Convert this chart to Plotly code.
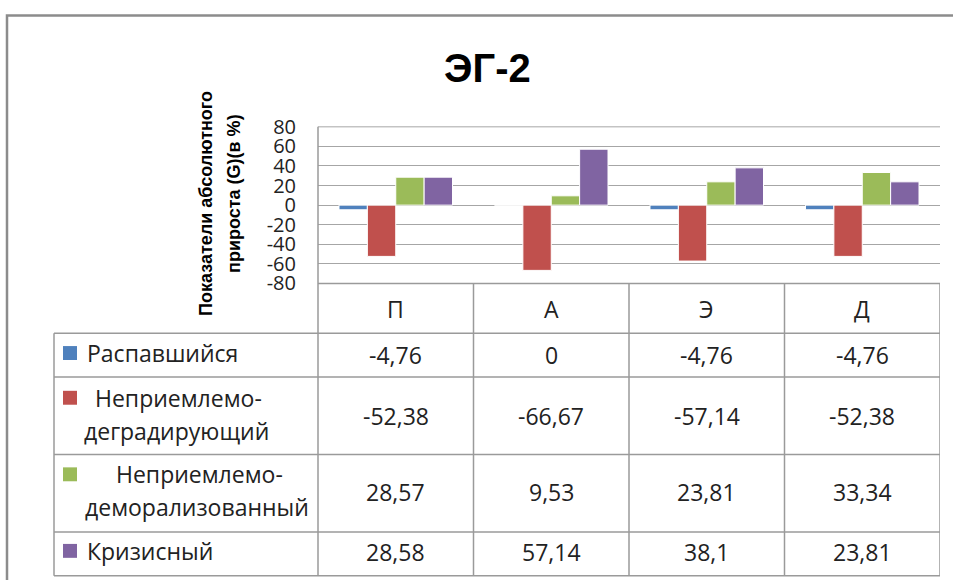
import plotly.graph_objects as go

# ---- data ----
categories = ["П", "А", "Э", "Д"]
series_names = ["Распавшийся", "Неприемлемо-деградирующий",
                "Неприемлемо-деморализованный", "Кризисный"]
raspav = [-4.76, 0, -4.76, -4.76]
degrad = [-52.38, -66.67, -57.14, -52.38]
demoral = [28.57, 9.53, 23.81, 33.34]
krizis = [28.58, 57.14, 38.1, 23.81]
y_ticks = [-80, -60, -40, -20, 0, 20, 40, 60, 80]
title_text = "ЭГ-2"
ytitle_lines = ["Показатели абсолютного", "прироста (G)(в %)"]

series_values = [raspav, degrad, demoral, krizis]
colors = ["#4F81BD", "#C0504D", "#9BBB59", "#8064A2"]

W, H = 953, 580
# vertical calibration of the photographed picture
Y_OFF, Y_SCALE = 12.0, 0.959


def px(xp):
    return xp / W


def py(yp):
    yf = (yp - Y_OFF) / Y_SCALE
    return 1 - yf / H


def fmt(v):
    return f"{v:g}".replace(".", ",")


fig = go.Figure()
for name, vals, col in zip(series_names, series_values, colors):
    fig.add_trace(go.Bar(
        x=categories, y=vals, name=name,
        marker=dict(color=col, line=dict(color="white", width=1)),
    ))

plot_top, plot_bot = 125.5, 283
plot_left, plot_right = 318, 940

fig.update_layout(
    width=W, height=H,
    margin=dict(l=0, r=0, t=0, b=0),
    paper_bgcolor="white", plot_bgcolor="white",
    barmode="group", bargap=0.27, bargroupgap=0,
    showlegend=False,
    xaxis=dict(domain=[px(plot_left), px(plot_right)], range=[-0.5, 3.5],
               showticklabels=False, showgrid=False, zeroline=False,
               showline=False, fixedrange=True),
    yaxis=dict(domain=[py(plot_bot), py(plot_top)], range=[-80, 80],
               tickvals=y_ticks, ticktext=[str(t) for t in y_ticks],
               showgrid=True, gridcolor="#A6A6A6", gridwidth=1,
               zeroline=True, zerolinecolor="#A6A6A6", zerolinewidth=1,
               showline=False, ticks="", ticklabelstandoff=21,
               tickfont=dict(family="Open Sans", size=20, color="#222")),
    font=dict(family="Open Sans", color="#222"),
)

shapes = []
line_col = "#9A9A9A"
lw = 1.5
# outer frame
shapes.append(dict(type="rect", xref="paper", yref="paper",
                   x0=px(7), x1=px(975), y0=py(620), y1=py(13.5),
                   line=dict(color="#8C8C8C", width=2.5)))
# plot top border line
shapes.append(dict(type="line", xref="paper", yref="paper",
                   x0=px(plot_left), x1=px(plot_right), y0=py(plot_top), y1=py(plot_top),
                   line=dict(color="#A6A6A6", width=1)))
# table horizontal lines
table_rows = [283, 333, 377, 455, 533, 577]
for i, yv in enumerate(table_rows):
    x0 = plot_left if i == 0 else 54
    shapes.append(dict(type="line", xref="paper", yref="paper",
                       x0=px(x0), x1=px(plot_right), y0=py(yv), y1=py(yv),
                       line=dict(color=line_col, width=lw)))
# left legend column border
shapes.append(dict(type="line", xref="paper", yref="paper",
                   x0=px(54), x1=px(54), y0=py(333), y1=py(577),
                   line=dict(color=line_col, width=lw)))
# vertical axis line through the table
shapes.append(dict(type="line", xref="paper", yref="paper",
                   x0=px(plot_left), x1=px(plot_left), y0=py(plot_top), y1=py(577),
                   line=dict(color=line_col, width=lw)))
# column separators (category boundaries)
for k in range(1, len(categories) + 1):
    shapes.append(dict(type="line", xref="x", yref="paper",
                       x0=k - 0.5, x1=k - 0.5, y0=py(283), y1=py(577),
                       line=dict(color=line_col, width=lw)))

# legend keys
key_centers = [353, 398, 475, 552]
for yc, col in zip(key_centers, colors):
    shapes.append(dict(type="rect", xref="paper", yref="paper",
                       x0=px(63), x1=px(77), y0=py(yc + 7), y1=py(yc - 7),
                       line=dict(width=0), fillcolor=col))

annotations = []
# title
annotations.append(dict(text=f"<b>{title_text}</b>", xref="paper", yref="paper",
                        x=px(488), y=py(66), showarrow=False,
                        xanchor="center", yanchor="middle",
                        font=dict(family="Liberation Sans", size=40, color="#000")))
# y axis title (two lines)
for line, xc, yc in zip(ytitle_lines, [206, 234], [203, 193]):
    annotations.append(dict(text=f"<b>{line}</b>", xref="paper", yref="paper",
                            x=px(xc), y=py(yc), showarrow=False, textangle=-90,
                            xanchor="center", yanchor="middle",
                            font=dict(family="Liberation Sans", size=18, color="#000")))
# category header
for c in categories:
    annotations.append(dict(text=c, xref="x", yref="paper", x=c, y=py(309),
                            showarrow=False, xanchor="center", yanchor="middle",
                            font=dict(family="Open Sans", size=23, color="#222")))
# values
value_centers = [355, 416, 493, 553]
for vals, yc in zip(series_values, value_centers):
    for c, v in zip(categories, vals):
        annotations.append(dict(text=fmt(v), xref="x", yref="paper", x=c, y=py(yc),
                                showarrow=False, xanchor="center", yanchor="middle",
                                font=dict(family="Open Sans", size=23, color="#222")))
# series labels
label_layout = [
    [(85, 353)],
    [(93, 398), (82, 431)],
    [(114, 475), (83, 508)],
    [(85, 552)],
]
for name, pos in zip(series_names, label_layout):
    if len(pos) == 2:
        a, b = name.split("-", 1)
        parts = [a + "-", b]
    else:
        parts = [name]
    for txt, (xl, yc) in zip(parts, pos):
        annotations.append(dict(text=txt, xref="paper", yref="paper", x=px(xl), y=py(yc),
                                showarrow=False, xanchor="left", yanchor="middle",
                                font=dict(family="Open Sans", size=23, color="#222")))

fig.update_layout(shapes=shapes, annotations=annotations)
post = (
    "var de=document.documentElement, b=document.body;"
    "de.style.margin='0';de.style.padding='0';de.style.overflow='hidden';"
    "b.style.margin='0';b.style.padding='0';b.style.overflow='hidden';"
    "var d=document.getElementById('{plot_id}');"
    "d.style.position='absolute';d.style.top='0px';d.style.left='0px';"
)
fig.write_html("out.html", config={"displayModeBar": False}, post_script=post)
